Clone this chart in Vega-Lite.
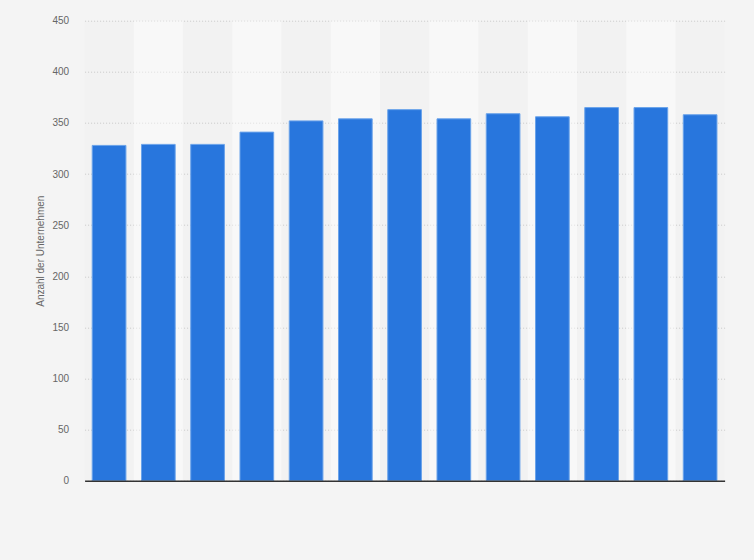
{
  "$schema": "https://vega.github.io/schema/vega-lite/v6.json",
  "width": 640,
  "height": 460,
  "autosize": {"type": "none"},
  "padding": {"left": 84.6, "top": 20.7, "right": 29.4, "bottom": 79.3},
  "background": "#f4f4f4",
  "config": {
    "view": {"stroke": null, "fill": "#f2f2f2"},
    "font": "Liberation Sans"
  },
  "data": {
    "values": [
      {"x": "1", "value": 328},
      {"x": "2", "value": 329},
      {"x": "3", "value": 329},
      {"x": "4", "value": 341},
      {"x": "5", "value": 352},
      {"x": "6", "value": 354},
      {"x": "7", "value": 363},
      {"x": "8", "value": 354},
      {"x": "9", "value": 359},
      {"x": "10", "value": 356},
      {"x": "11", "value": 365},
      {"x": "12", "value": 365},
      {"x": "13", "value": 358}
    ]
  },
  "encoding": {
    "x": {
      "field": "x",
      "type": "ordinal",
      "sort": null,
      "scale": {"paddingInner": 0.316, "paddingOuter": 0.155},
      "axis": {
        "title": null,
        "labels": false,
        "ticks": false,
        "domainColor": "#333333",
        "domainWidth": 1.5
      }
    }
  },
  "layer": [
    {
      "mark": {"type": "rect", "width": {"band": 1.4615}},
      "encoding": {
        "color": {
          "field": "x",
          "type": "ordinal",
          "sort": null,
          "scale": {"range": ["rgba(255,255,255,0)", "rgba(255,255,255,0.45)"]},
          "legend": null
        }
      }
    },
    {
      "mark": {"type": "bar", "color": "#2876dd", "stroke": "#6aa3ea", "strokeWidth": 1},
      "encoding": {
        "y": {
          "field": "value",
          "type": "quantitative",
          "scale": {"domain": [0, 450]},
          "axis": {
            "title": "Anzahl der Unternehmen",
            "titleFont": "Liberation Sans",
            "titleFontSize": 10,
            "titleFontWeight": "normal",
            "titleColor": "#666666",
            "titlePadding": 6,
            "values": [0, 50, 100, 150, 200, 250, 300, 350, 400, 450],
            "labelFontSize": 10,
            "labelColor": "#666666",
            "labelPadding": 16,
            "ticks": false,
            "domain": false,
            "grid": true,
            "gridColor": "#c8c8c8",
            "gridDash": [1, 2],
            "gridWidth": 1
          }
        }
      }
    }
  ]
}
